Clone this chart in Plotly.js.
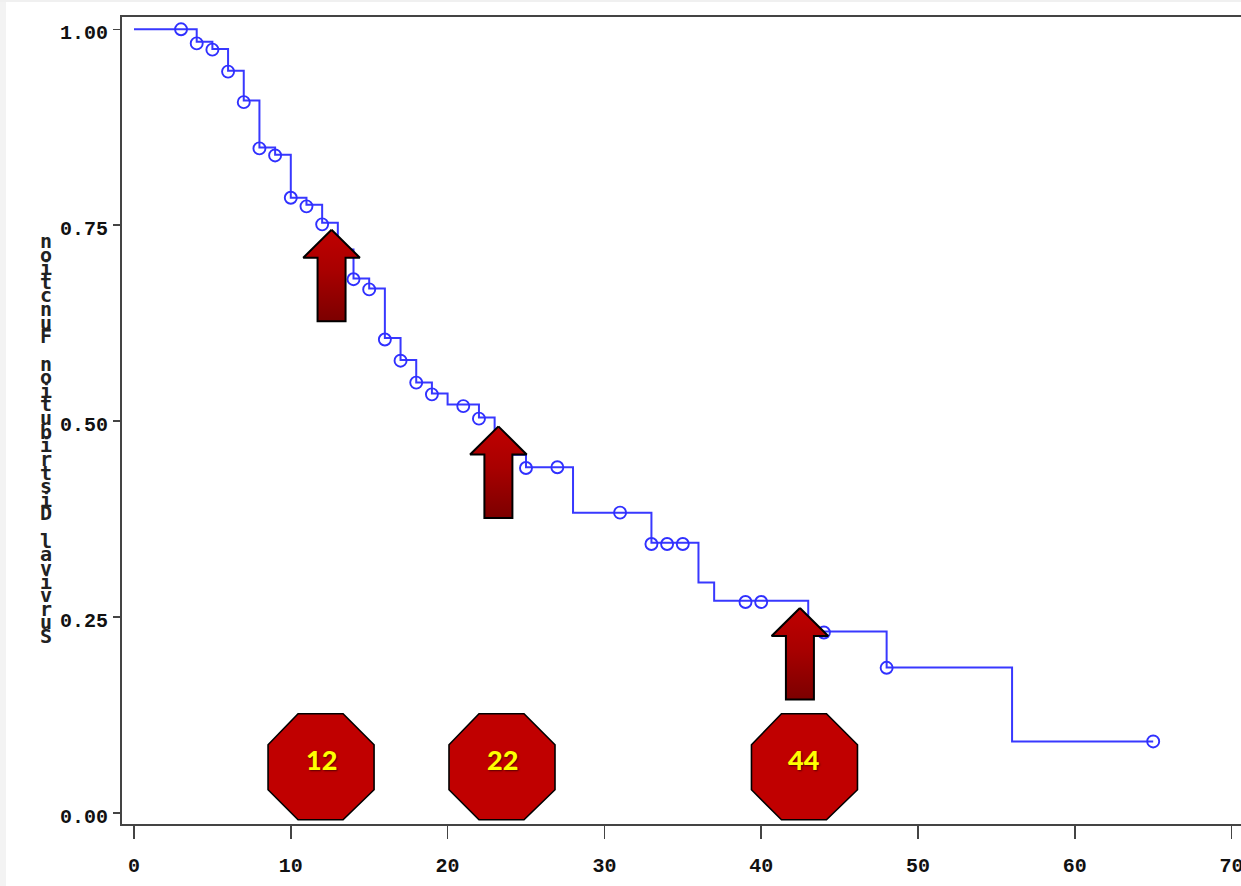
<!DOCTYPE html>
<html>
<head>
<meta charset="utf-8">
<script src="https://cdn.plot.ly/plotly-3.0.1.min.js"></script>
<style>html,body{margin:0;padding:0;background:#fff;overflow:hidden}#chart{width:1241px;height:886px}</style>
</head>
<body>
<div id="chart"></div>
<script>
// Kaplan-Meier step line
const stepTimes = [0,4,5,6,7,8,9,10,11,12,13,14,15,16,17,18,19,20,22,23,25,28,33,36,37,43,48,56,65];
const stepSurvival = [1,0.984,0.975,0.947,0.909,0.849,0.840,0.785,0.776,0.753,0.719,0.682,0.669,0.606,0.578,0.549,0.535,0.521,0.5045,0.457,0.441,0.383,0.3445,0.294,0.2706,0.2314,0.1855,0.091,0.091];
// Censored observations
const censorTimes = [3,4,5,6,7,8,9,10,11,12,14,15,16,17,18,19,21,22,25,27,31,33,34,35,39,40,44,48,65];
const censorSurvival = [1,0.982,0.974,0.946,0.907,0.848,0.839,0.785,0.774,0.751,0.681,0.668,0.604,0.577,0.549,0.534,0.519,0.503,0.440,0.441,0.383,0.343,0.343,0.343,0.269,0.269,0.230,0.185,0.091];
// Call-outs
const badgeLabels = ['12','22','44'];
const badgeTimes = [11.93,23.47,42.76];
const arrowTimes = [12.6,23.24,42.47];
const arrowTips = [0.7442,0.4931,0.2613];
const xTicks = [0,10,20,30,40,50,60,70];
const yTicks = [0,0.25,0.5,0.75,1];
const yTitle = 'noitcnuF noitubirtsiD lavivruS';

const pxX = 15.68, pxY = 783.4;
const mono = '"Liberation Mono", monospace';

const traces = [
  {x: stepTimes, y: stepSurvival, mode: 'lines', line: {shape: 'hv', color: '#3838ff', width: 2}, hoverinfo: 'skip', showlegend: false},
  {x: censorTimes, y: censorSurvival, mode: 'markers', marker: {symbol: 'circle-open', size: 12, color: '#3030ff', line: {width: 1.9, color: '#3030ff'}}, hoverinfo: 'skip', showlegend: false}
];

arrowTimes.forEach((t, i) => {
  const tip = arrowTips[i];
  const hw = 28.3 / pxX, sw = 14 / pxX;
  const headBase = tip - 28 / pxY, bottom = tip - 91.5 / pxY;
  traces.push({
    x: [t, t + hw, t + sw, t + sw, t - sw, t - sw, t - hw, t],
    y: [tip, headBase, headBase, bottom, bottom, headBase, headBase, tip],
    mode: 'lines', fill: 'toself',
    fillgradient: {type: 'vertical', colorscale: [[0, '#7c0000'], [0.55, '#a80000'], [1, '#c00000']]},
    line: {color: '#000', width: 2}, hoverinfo: 'skip', showlegend: false
  });
});

const octagon = 'M -23 53 L 22 53 L 53 22 L 53 -23 L 22 -53 L -23 -53 L -53 -23 L -53 22 Z';
const shapes = badgeTimes.map(t => ({
  type: 'path', layer: 'above', xsizemode: 'pixel', ysizemode: 'pixel',
  xref: 'x', yref: 'y', xanchor: t, yanchor: 0.0587, path: octagon,
  fillcolor: '#c00000', line: {color: '#000', width: 1.6}
}));
// faint window edge in the reference
shapes.push({type: 'rect', xref: 'paper', yref: 'paper', x0: -122/1119, x1: -116/1119, y0: -62/807, y1: 17/807 + 1, fillcolor: '#f3f3f3', line: {width: 0}, layer: 'below'});
shapes.push({type: 'rect', xref: 'paper', yref: 'paper', x0: -122/1119, x1: 1, y0: 1 + 15/807, y1: 1 + 17/807, fillcolor: '#f0f0f0', line: {width: 0}, layer: 'below'});

const annotations = badgeLabels.map((s, i) => ({
  text: s, x: badgeTimes[i], y: 0.0587, xref: 'x', yref: 'y', yshift: 7, showarrow: false,
  font: {family: 'Lato, "Open Sans", sans-serif', size: 27, color: '#ffff00', weight: 900, shadow: '1px 1px 2px rgba(0,0,0,0.55)'}
}));
Array.from(yTitle).forEach((ch, i) => {
  if (ch === ' ') return;
  annotations.push({
    text: ch, xref: 'paper', yref: 'paper', x: 0, y: 1, xanchor: 'center', yanchor: 'middle',
    xshift: -76, yshift: -(241 + i * 13.62 - 17), showarrow: false,
    font: {family: '"DejaVu Sans Mono", monospace', size: 20, color: '#222', weight: 700}
  });
});

const layout = {
  width: 1241, height: 886, margin: {l: 122, r: 0, t: 17, b: 62},
  paper_bgcolor: '#fff', plot_bgcolor: '#fff', showlegend: false, hovermode: false,
  xaxis: {
    range: [-0.765, 70.6], tickvals: xTicks, ticktext: xTicks.map(String), ticks: 'outside', ticklen: 13, tickwidth: 1.6, tickcolor: '#444',
    showline: true, linecolor: '#444', linewidth: 2, mirror: true, showgrid: false, zeroline: false,
    tickfont: {family: mono, size: 20, color: '#111', weight: 700}, ticklabelstandoff: 9, ticklabeloverflow: 'allow'
  },
  yaxis: {
    range: [-0.0144, 1.0157], tickvals: yTicks, ticktext: yTicks.map(v => v.toFixed(2)), ticks: 'outside', ticklen: 7, tickwidth: 1.6, tickcolor: '#444',
    showline: true, linecolor: '#444', linewidth: 2, mirror: false, showgrid: false, zeroline: false,
    tickfont: {family: mono, size: 20, color: '#111', weight: 700}, ticklabelstandoff: 1, ticklabelshift: 3
  },
  shapes, annotations
};
Plotly.newPlot('chart', traces, layout, {displayModeBar: false, staticPlot: true});
</script>
</body>
</html>
